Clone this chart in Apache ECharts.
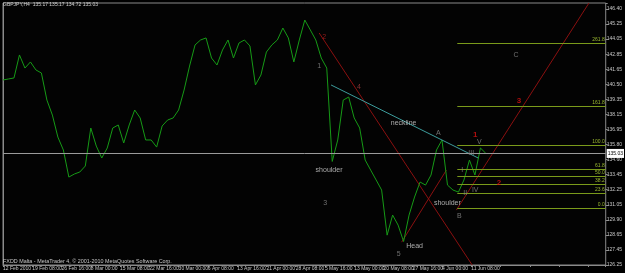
<!DOCTYPE html>
<html>
<head>
<meta charset="utf-8">
<script src="https://cdn.jsdelivr.net/npm/echarts@6/dist/echarts.min.js"></script>
<style>
  html, body { margin: 0; padding: 0; background: #000; }
  #chart { width: 625px; height: 273px; }
</style>
</head>
<body>
<div id="chart"></div>
<script>
// GBPJPY H4 - one close per trading day (6 H4 bars)
const barsPerPoint = 6
const closes = [
  140.81, 140.89, 140.97, 142.78, 141.75, 142.23, 141.60, 141.36, 139.23, 138.05,
  136.32, 135.30, 133.17, 133.41, 133.57, 134.04, 137.03, 135.61, 134.67, 135.46,
  137.03, 137.27, 135.85, 137.27, 138.45, 137.82, 136.09, 136.09, 135.53, 137.19,
  137.66, 137.82, 138.45, 140.02, 141.91, 143.57, 143.96, 144.12, 142.54, 141.99,
  143.17, 143.96, 142.54, 143.72, 143.96, 143.49, 140.42, 141.20, 143.01, 143.57,
  143.96, 144.90, 144.12, 142.23, 143.96, 145.53, 144.75, 143.96, 142.54, 141.75,
  134.40, 136.09, 139.23, 139.47, 137.82, 137.03, 134.51, 133.72, 132.94, 132.15,
  128.60, 130.18, 129.39, 128.10, 130.18, 131.60, 132.78, 132.54, 133.33, 135.30,
  136.09, 132.54, 132.15, 131.99, 132.94, 134.51, 133.33, 135.46, 135.03
]
const lastQuote = 135.03

// x axis: a date label every 32 bars
const dateTicks = ["12 Feb 2010", "19 Feb 08:00", "26 Feb 16:00", "8 Mar 00:00", "15 Mar 08:00",
  "22 Mar 16:00", "30 Mar 00:00", "6 Apr 08:00", "13 Apr 16:00", "21 Apr 00:00", "28 Apr 08:00",
  "5 May 16:00", "13 May 00:00", "20 May 08:00", "27 May 16:00", "4 Jun 00:00", "11 Jun 08:00"]
const barsPerDateTick = 32

// price labels, bottom to top
const priceTicks = ["126.25", "127.45", "128.65", "129.90", "131.05", "132.25", "133.45", "134.60",
  "135.80", "136.95", "138.15", "139.35", "140.50", "141.65", "142.85", "144.05", "145.25", "146.40"]
const priceMin = 126.25
const priceMax = 146.87
const priceTop = 146.40

// fibonacci retracement drawn from B (0.0) to A (100.0)
const fibLabels = ["261.8", "161.8", "100.0", "61.8", "50.0", "38.2", "23.6", "0.0"]
const fibPrices = [143.72, 138.76, 135.69, 133.80, 133.25, 132.62, 131.91, 130.73]
const fibFromBar = 496.7

// trendlines [bar, price]
const neckline = [[358.7, 140.42], [519.6, 134.67]]
const redLines = [
  [[345.7, 144.51], [513.0, 126.25]],
  [[495.7, 130.57], [640.7, 146.87]],
  [[435.9, 128.05], [484.8, 133.72]]
]

// text objects on the chart
const annoText  = ["2", "1", "4", "3", "5", "shoulder", "neckline", "Head", "shoulder", "A", "B",
  "1", "V", "III", "I", "II", "IV", "2", "3", "C"]
const annoBar   = [351.1, 345.7, 389.1, 352.2, 432.6, 356.5, 438.0, 450.0, 485.9, 476.1, 498.9,
  516.3, 520.7, 512.0, 502.2, 505.4, 516.3, 542.4, 564.1, 560.9]
const annoPrice = [144.20, 141.91, 140.26, 131.12, 127.11, 133.72, 137.42, 127.74, 131.12, 136.64, 130.10,
  136.48, 135.93, 135.06, 133.72, 131.91, 132.15, 132.70, 139.16, 142.78]
const annoKind  = ["redSmall", "wave", "brown", "wave", "wave", "note", "note", "note", "note", "wave", "wave",
  "red", "wave", "wave", "wave", "wave", "wave", "red", "red", "wave"]

const font = "Liberation Sans"
const kindStyle = {
  wave: { color: "#8c8c8c", fontSize: 7 },
  note: { color: "#d4d4d4", fontSize: 7 },
  brown: { color: "#a04040", fontSize: 7 },
  redSmall: { color: "#b02020", fontSize: 7 },
  red: { color: "#dd1111", fontSize: 8, fontWeight: "bold" }
}

const xMax = 659
const myChart = echarts.init(document.getElementById("chart"))

const option = {
  backgroundColor: "#000",
  animation: false,
  title: [
    {
      text: "GBPJPY,H4  135.17 135.17 134.72 135.03",
      left: 3, top: 2, padding: 0,
      textStyle: { color: "#d0d0d0", fontSize: 5, fontWeight: "normal", fontFamily: font }
    },
    {
      text: "FXDD Malta - MetaTrader 4, © 2001-2010 MetaQuotes Software Corp.",
      left: 3, top: 259, padding: 0,
      textStyle: { color: "#c8c8c8", fontSize: 5.4, fontWeight: "normal", fontFamily: font }
    }
  ],
  grid: {
    left: 2, right: 17, top: 3, bottom: 8,
    show: true, borderColor: "#8a8a8a", borderWidth: 1, backgroundColor: "#030303"
  },
  xAxis: {
    type: "value",
    min: 0,
    max: xMax,
    interval: barsPerDateTick,
    axisLine: { show: true, lineStyle: { color: "#8a8a8a" } },
    axisTick: { show: true, length: 2, lineStyle: { color: "#8a8a8a" } },
    splitLine: { show: false },
    axisLabel: {
      color: "#c8c8c8", fontSize: 5, fontFamily: font, margin: 1, align: "left",
      formatter: (v) => dateTicks[Math.round(v / barsPerDateTick)] || ""
    }
  },
  yAxis: [
    {
      type: "value",
      position: "right",
      min: priceMin,
      max: priceMax,
      axisLine: { show: true, lineStyle: { color: "#8a8a8a" } },
      axisTick: { show: false },
      axisLabel: { show: false },
      splitLine: { show: false }
    },
    {
      // label axis: one step per printed price
      type: "value",
      position: "right",
      min: 0,
      max: (priceMax - priceMin) / ((priceTop - priceMin) / (priceTicks.length - 1)),
      interval: 1,
      axisLine: { show: false },
      axisTick: { show: true, length: 2, lineStyle: { color: "#8a8a8a" } },
      splitLine: { show: false },
      axisLabel: {
        color: "#c8c8c8", fontSize: 5, fontFamily: font, margin: 1,
        formatter: (v) => (Number.isInteger(v) && priceTicks[v]) || ""
      }
    }
  ],
  series: [
    {
      name: "GBPJPY",
      type: "line",
      data: closes.map((c, i) => [i * barsPerPoint, c]),
      showSymbol: false,
      lineStyle: { color: "#169a16", width: 1 },
      z: 3,
      markLine: {
        silent: true,
        symbol: "none",
        lineStyle: { color: "#9a9a9a", width: 1, type: "solid" },
        label: {
          position: "end", distance: 1, formatter: lastQuote.toFixed(2),
          backgroundColor: "#fff", color: "#000", fontSize: 5, fontFamily: font, padding: [2, 1]
        },
        data: [{ yAxis: lastQuote }]
      }
    },
    {
      name: "fibo",
      type: "line",
      data: [],
      markLine: {
        silent: true,
        symbol: "none",
        lineStyle: { color: "#7a9a1a", width: 1, type: "solid" },
        label: {
          position: "insideEndTop", distance: 1, color: "#9ab830", fontSize: 5, fontFamily: font
        },
        data: fibPrices.map((p, i) => [
          { coord: [fibFromBar, p], label: { formatter: fibLabels[i] } },
          { coord: [xMax, p] }
        ])
      }
    },
    {
      name: "neckline",
      type: "line",
      data: neckline,
      showSymbol: false,
      lineStyle: { color: "#3c9c9c", width: 1 },
      z: 4
    },
    ...redLines.map((seg, i) => ({
      name: "red" + i,
      type: "line",
      data: seg,
      showSymbol: false,
      lineStyle: { color: "#8b1010", width: 1 },
      z: 2
    })),
    {
      name: "labels",
      type: "scatter",
      symbolSize: 1,
      itemStyle: { color: "transparent" },
      z: 5,
      data: annoText.map((t, i) => ({
        name: t,
        value: [annoBar[i], annoPrice[i]],
        label: Object.assign({ show: true, position: "inside", formatter: "{b}", fontFamily: font },
          kindStyle[annoKind[i]])
      }))
    }
  ]
}

myChart.setOption(option)
window.addEventListener("resize", () => {
  myChart.resize()
})
</script>
</body>
</html>
